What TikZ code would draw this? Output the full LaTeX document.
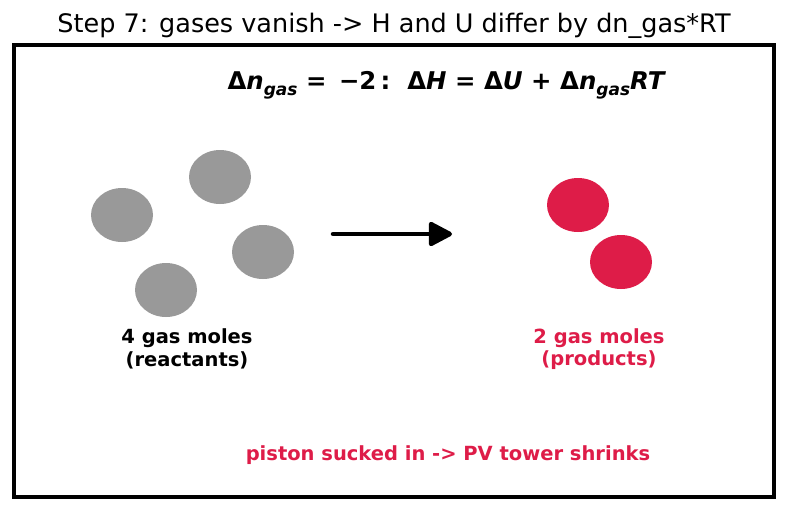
\documentclass[tikz,border=0pt]{standalone}
\usepackage{fontspec}
\setmainfont{DejaVu Sans}
\usepackage{tikz}
\usetikzlibrary{arrows.meta, positioning, shapes.geometric}
\definecolor{rojito}{RGB}{222,28,72}
\definecolor{grisito}{RGB}{153,153,153}
\newcommand{\bi}[1]{{\bfseries\itshape #1}}
\newcommand{\sgas}{\raisebox{-0.45ex}{\fontsize{17}{17}\selectfont\bfseries\itshape gas}}
\tikzset{>=stealth,
  molreac/.style={ellipse, fill=grisito, minimum width=62pt, minimum height=54pt, inner sep=0pt},
  molprod/.style={ellipse, fill=rojito, minimum width=62pt, minimum height=54pt, inner sep=0pt},
  etiq/.style={font=\fontsize{19.5}{22.5}\selectfont\bfseries, align=center}}

\begin{document}
\begin{tikzpicture}[x=1pt, y=-1pt]
	\useasboundingbox (0,0) rectangle (787,512);
	\node (titulo) at (394,26) {\fontsize{25.5}{28}\selectfont Step 7: gases vanish -> H and U differ by dn\_gas*RT};
	\draw [line width=4pt] (14,45) rectangle (774,497);

	\node (formula) at (446,85) {\fontsize{24.4}{28}\selectfont\bfseries Δ\bi{n}\sgas{} = \,−2\,:\ \ Δ\bi{H} = Δ\bi{U} + Δ\bi{n}\sgas\bi{RT}};

	% reactivos
	\node [molreac] (r1) at (122,215) {};
	\node [molreac] (r2) at (220,177) {};
	\node [molreac] (r3) at (263,252) {};
	\node [molreac] (r4) at (166,290) {};
	% productos
	\node [molprod] (p1) at (578,205) {};
	\node [molprod] (p2) at (621,262) {};

	\coordinate (flechaA) at (333,234);
	\coordinate (flechaB) at (452,234);
	\draw [-{Triangle[length=20pt,width=20pt,round,scale=1.3]}, line width=4.5pt, line cap=round, line join=round] (flechaA) -- (flechaB);

	\node [etiq] (reac) at (187,349) {4 gas moles\\(reactants)};
	\node [etiq, rojito] (prod) at (599,349) {2 gas moles\\(products)};
	\node [etiq, rojito] (piston) at (448,455) {piston sucked in -> PV tower shrinks};
\end{tikzpicture}
\end{document}
